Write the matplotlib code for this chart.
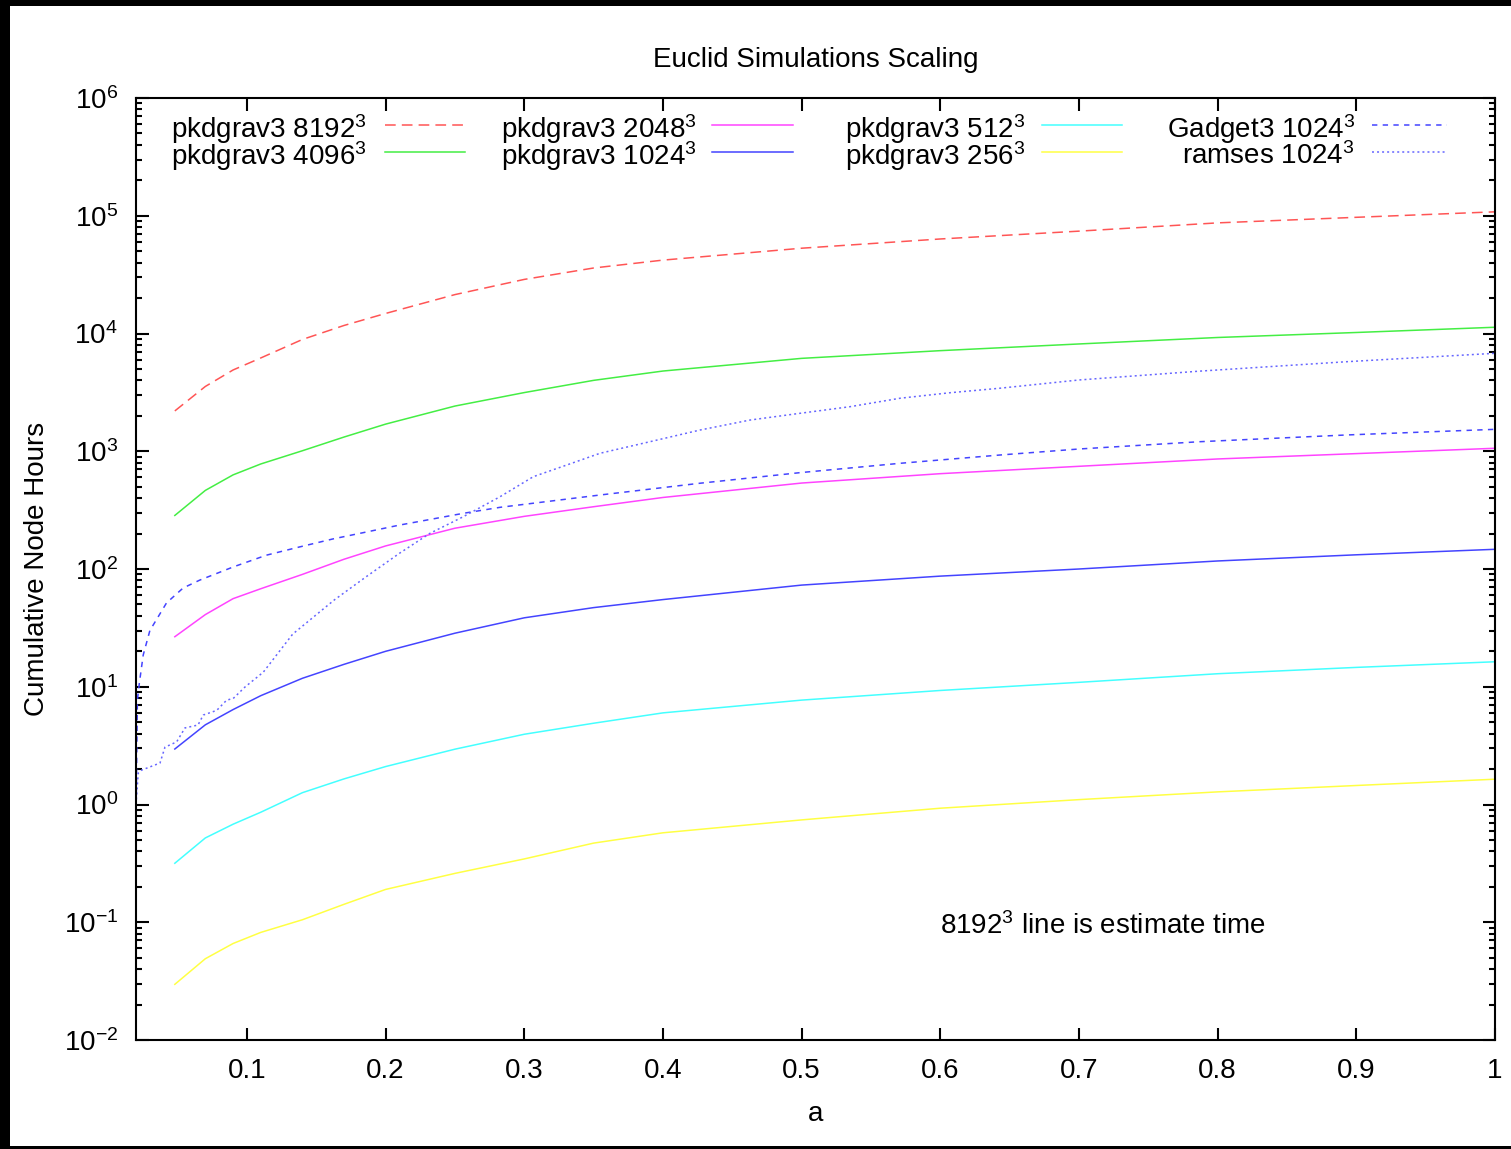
import numpy as np
import matplotlib.pyplot as plt
from matplotlib.patches import Rectangle
from matplotlib.ticker import LogLocator, NullLocator, FixedLocator

plt.rcParams['font.family'] = ['Liberation Sans', 'DejaVu Sans']
plt.rcParams['mathtext.fontset'] = 'custom'
plt.rcParams['mathtext.rm'] = 'Liberation Sans'
plt.rcParams['mathtext.it'] = 'Liberation Sans'
plt.rcParams['axes.unicode_minus'] = False

FS = 20

# expansion factor grid shared by the pkdgrav3 runs
a_pkd = [0.048, 0.07, 0.09, 0.11, 0.14, 0.17, 0.2, 0.25, 0.3, 0.35,
         0.4, 0.5, 0.6, 0.7, 0.8, 0.9, 1.0]

# cumulative node hours per run
pkd_8192 = [2200, 3550, 4900, 6200, 8900, 11700, 14800, 21400, 28800, 36000,
            42000, 53000, 63500, 74000, 87000, 97000, 108000]
pkd_4096 = [285, 465, 630, 780, 1010, 1320, 1700, 2420, 3150, 4000,
            4800, 6150, 7150, 8150, 9250, 10200, 11300]
pkd_2048 = [26.6, 41, 56, 68, 90, 121, 157, 222, 280, 338,
            405, 537, 645, 745, 860, 955, 1060]
pkd_1024 = [2.96, 4.75, 6.4, 8.4, 11.8, 15.5, 20, 28.5, 38.5, 47,
            55, 73, 87, 100, 117, 132, 147]
pkd_512 = [0.317, 0.52, 0.68, 0.86, 1.26, 1.65, 2.1, 2.95, 3.95, 4.9,
           6.0, 7.7, 9.3, 10.9, 12.9, 14.6, 16.3]
pkd_256 = [0.0297, 0.049, 0.066, 0.082, 0.105, 0.142, 0.19, 0.26, 0.345, 0.47,
           0.575, 0.74, 0.93, 1.1, 1.28, 1.45, 1.64]

a_gadget = [0.0202, 0.021, 0.0224, 0.0252, 0.030, 0.042, 0.054, 0.066, 0.09,
            0.114, 0.138, 0.162, 0.186, 0.21, 0.256, 0.2825, 0.3546, 0.4267,
            0.4988, 0.571, 0.643, 0.7, 0.787, 0.893, 1.0]
gadget_1024 = [1.2, 7.7, 10.7, 18.6, 30, 51.5, 69, 80.5, 104,
               131, 154, 180, 206, 236, 297, 334, 425, 535,
               658, 790, 929, 1045, 1205, 1375, 1535]

a_ramses = [0.0200, 0.0216, 0.0241, 0.0373, 0.0409, 0.0493, 0.0553, 0.0647,
            0.0685, 0.0782, 0.0854, 0.0901, 0.0986, 0.1118, 0.133, 0.163,
            0.186, 0.21, 0.232, 0.256, 0.2825, 0.3065, 0.3306,
            0.3546, 0.3906, 0.4267, 0.4627, 0.4988, 0.5349, 0.571, 0.607,
            0.643, 0.7, 0.787, 0.893, 1.0]
ramses_1024 = [1.0, 1.85, 1.96, 2.25, 3.07, 3.4, 4.47, 4.73,
               5.75, 6.3, 7.7, 7.95, 9.95, 13.3, 28, 54.6,
               86, 136, 201, 278, 411, 608, 764,
               961, 1205, 1514, 1840, 2100, 2390, 2820, 3140,
               3430, 4030, 4790, 5760, 6790]

x_ticks = [0.1, 0.2, 0.3, 0.4, 0.5, 0.6, 0.7, 0.8, 0.9, 1]
x_labels = ['0.1', '0.2', '0.3', '0.4', '0.5', '0.6', '0.7', '0.8', '0.9', '1']

# (label, x, y, colour, dashes, legend column, legend row)
series = [
    ('pkdgrav3 8192$^3$', a_pkd, pkd_8192, '#ff5555', (7, 4), 0, 0),
    ('pkdgrav3 4096$^3$', a_pkd, pkd_4096, '#44ee44', None, 0, 1),
    ('pkdgrav3 2048$^3$', a_pkd, pkd_2048, '#ff44ff', None, 1, 0),
    ('pkdgrav3 1024$^3$', a_pkd, pkd_1024, '#4444ff', None, 1, 1),
    ('pkdgrav3 512$^3$', a_pkd, pkd_512, '#44ffff', None, 2, 0),
    ('pkdgrav3 256$^3$', a_pkd, pkd_256, '#ffff44', None, 2, 1),
    ('Gadget3 1024$^3$', a_gadget, gadget_1024, '#4444ff', (3.5, 3.5), 3, 0),
    ('ramses 1024$^3$', a_ramses, ramses_1024, '#6666ff', (1.3, 2.0), 3, 1),
]

fig = plt.figure(figsize=(15.11, 11.49), dpi=100, facecolor='black')
# white page inside a thin black border
fig.patches.append(Rectangle((10 / 1511, 3 / 1149), 1 - 10 / 1511, 1 - 9 / 1149,
                             transform=fig.transFigure, facecolor='white',
                             edgecolor='none', zorder=-10))
ax = fig.add_axes([136 / 1511, 1 - 1040 / 1149, 1359 / 1511, 942 / 1149])

# legend layout, gnuplot style: text right aligned, sample after it
text_right = [0.170, 0.4128, 0.6542, 0.8970]
sample_x = [(0.1832, 0.2421), (0.4238, 0.4834), (0.6667, 0.7255), (0.9095, 0.9647)]
row_y = [0.9713, 0.9427]

for label, x, y, color, dashes, col, row in series:
    kw = dict(color=color, lw=1.1)
    if dashes is not None:
        kw['dashes'] = dashes
    ax.plot(x, y, **kw)
    ax.plot(sample_x[col], [row_y[row], row_y[row]], transform=ax.transAxes, **kw)
    ax.text(text_right[col], row_y[row] - 0.004, label, transform=ax.transAxes,
            ha='right', va='center', fontsize=FS)

ax.set_yscale('log')
ax.set_xlim(0.02, 1)
ax.set_ylim(1e-2, 1e6)
ax.xaxis.set_major_locator(FixedLocator(x_ticks))
ax.set_xticklabels(x_labels)
ax.xaxis.set_minor_locator(NullLocator())
ax.yaxis.set_major_locator(LogLocator(base=10, numticks=20))
ax.yaxis.set_minor_locator(LogLocator(base=10, subs=np.arange(2, 10), numticks=20))

ax.tick_params(which='both', direction='in', top=True, right=True,
               labelsize=FS, width=1.5)
ax.tick_params(which='major', length=9, pad=13)
ax.tick_params(which='minor', length=4.5)
for spine in ax.spines.values():
    spine.set_linewidth(1.5)

ax.set_title('Euclid Simulations Scaling', fontsize=FS, pad=22)
ax.set_xlabel('a', fontsize=FS, labelpad=12)
ax.set_ylabel('Cumulative Node Hours', fontsize=FS, labelpad=10)

ax.text(0.6, 0.093, '8192$^3$ line is estimate time', fontsize=FS,
        ha='left', va='center')

fig.savefig('out.png', dpi=100, facecolor=fig.get_facecolor())
